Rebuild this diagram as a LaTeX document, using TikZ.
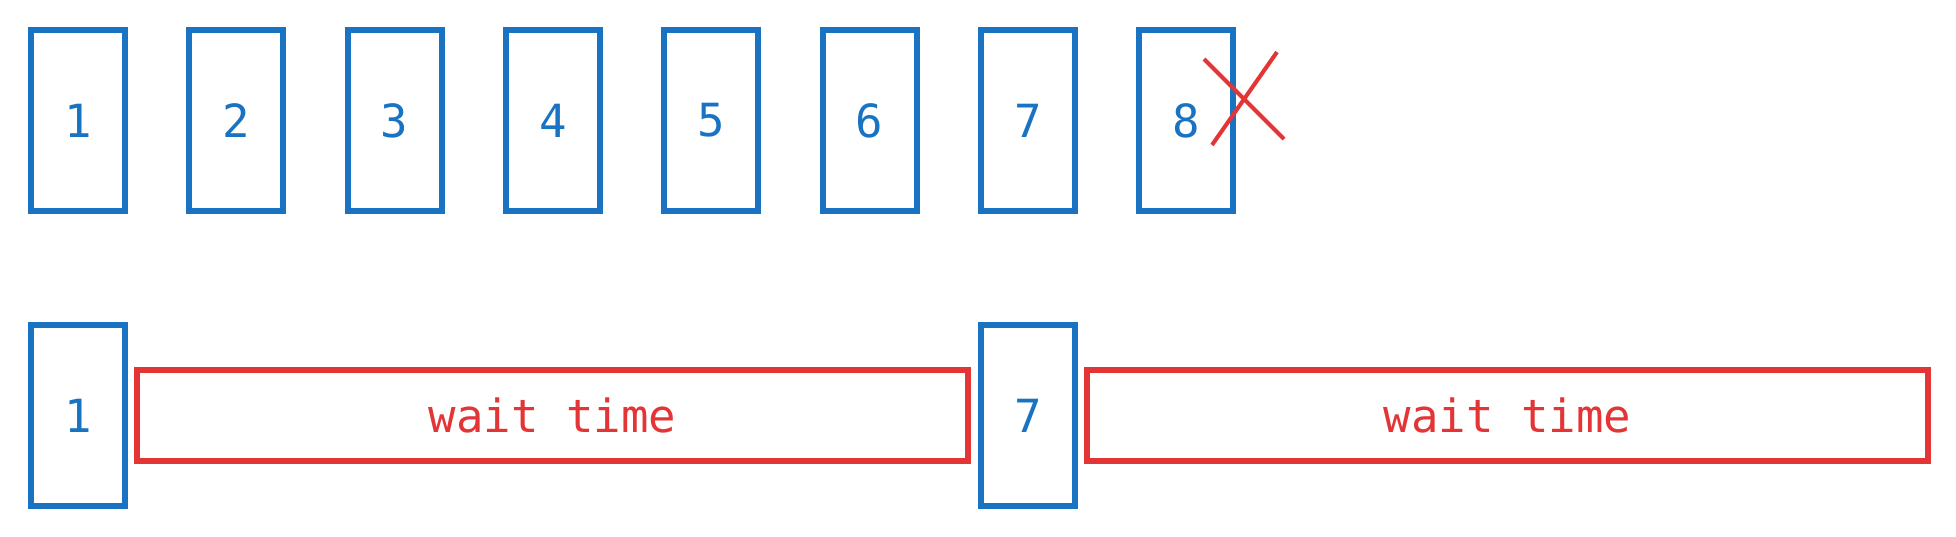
\documentclass[tikz,border=0pt]{standalone}
\usepackage{fontspec}
\setmonofont{DejaVu Sans Mono}
\usepackage{tikz}
\usetikzlibrary{positioning}
\definecolor{slotblue}{RGB}{26,115,194}
\definecolor{waitred}{RGB}{227,53,53}
\tikzset{
  slot/.style={draw=slotblue, text=slotblue, line width=3.4pt, minimum width=1.88cm, minimum height=3.62cm, inner sep=0pt, font=\ttfamily\fontsize{26}{30}\selectfont},
  waitbox/.style={draw=waitred, text=waitred, line width=3.4pt, minimum height=1.82cm, inner sep=0pt, font=\ttfamily\fontsize{26}{30}\selectfont}
}
\begin{document}
\begin{tikzpicture}
		\useasboundingbox (0,0) rectangle (39.12,-10.74);
		\foreach \i in {1,...,8}
			\node[slot] (top\i) at ({1.56+3.166*(\i-1)},-2.41) {\i};
		\draw[waitred, line width=2.3pt] (24.08,-1.18) -- (25.68,-2.78);
		\draw[waitred, line width=2.3pt] (25.54,-1.04) -- (24.24,-2.9);

		\node[slot] (low1) at (1.56,-8.31) {1};
		\node[waitbox, minimum width=16.62cm] (wait1) at (11.05,-8.31) {wait time};
		\node[slot] (low7) at (20.556,-8.31) {7};
		\node[waitbox, minimum width=16.82cm] (wait2) at (30.15,-8.31) {wait time};
	\end{tikzpicture}
\end{document}
